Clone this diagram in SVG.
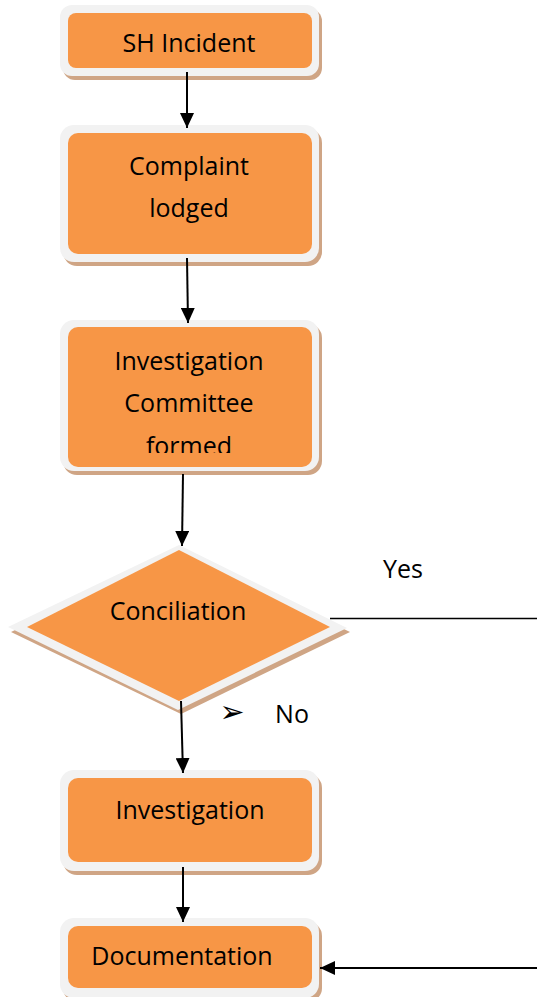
<svg xmlns="http://www.w3.org/2000/svg" width="537" height="997" viewBox="0 0 537 997">
<defs>
<marker id="ah" markerUnits="userSpaceOnUse" markerWidth="16" markerHeight="14" refX="15" refY="7" orient="auto">
<path d="M0,0 L15,7 L0,14 z" fill="#000"/>
</marker>
<clipPath id="c3"><rect x="60" y="320" width="270" height="133"/></clipPath>
</defs>
<style>
.sh{fill:#cfa585}
.fr{fill:#f2f2f2}
.in{fill:#f79646}
.t{font-family:"Open Sans","Liberation Sans",sans-serif;font-size:25px;fill:#000;text-anchor:middle}
.c{stroke:#000;stroke-width:2;fill:none}
</style>
<rect width="537" height="997" fill="#fff"/>
<g id="n1">
<rect class="sh" x="63" y="9" width="259" height="71" rx="12"/>
<rect class="fr" x="60" y="5" width="259" height="71" rx="12"/>
<rect class="in" x="68" y="13" width="244" height="55" rx="8"/>
<text class="t" x="189" y="52">SH Incident</text>
</g>
<g id="n2">
<rect class="sh" x="63" y="129" width="259" height="137" rx="14"/>
<rect class="fr" x="60" y="125" width="259" height="137" rx="14"/>
<rect class="in" x="68" y="133" width="244" height="121" rx="10"/>
<text class="t" x="189" y="175">Complaint</text>
<text class="t" x="189" y="217">lodged</text>
</g>
<g id="n3">
<rect class="sh" x="63" y="324" width="259" height="151" rx="14"/>
<rect class="fr" x="60" y="320" width="259" height="151" rx="14"/>
<rect class="in" x="68" y="327" width="244" height="140" rx="10"/>
<g clip-path="url(#c3)">
<text class="t" x="189" y="370">Investigation</text>
<text class="t" x="189" y="412">Committee</text>
<text class="t" x="189" y="455">formed</text>
</g>
</g>
<g id="n4">
<polygon class="sh" points="180,549 11,632 181,714 350,632"/>
<polygon class="fr" points="179,545 8,627 178,710 347,628"/>
<polygon class="in" points="179,550 27,627 179,701 330,627"/>
<text class="t" x="178" y="620">Conciliation</text>
</g>
<g id="n5">
<rect class="sh" x="63" y="774" width="259" height="101" rx="14"/>
<rect class="fr" x="60" y="770" width="259" height="101" rx="14"/>
<rect class="in" x="68" y="778" width="244" height="84" rx="10"/>
<text class="t" x="190" y="819">Investigation</text>
</g>
<g id="n6">
<rect class="sh" x="63" y="922" width="259" height="80" rx="14"/>
<rect class="fr" x="60" y="918" width="259" height="80" rx="14"/>
<rect class="in" x="68" y="926" width="244" height="62" rx="10"/>
<text class="t" x="182" y="965">Documentation</text>
</g>
<g id="connectors">
<line class="c" x1="187" y1="72" x2="187" y2="128" marker-end="url(#ah)"/>
<line class="c" x1="187" y1="258" x2="188" y2="323" marker-end="url(#ah)"/>
<line class="c" x1="183" y1="474" x2="182" y2="546" marker-end="url(#ah)"/>
<line class="c" x1="181" y1="701" x2="183" y2="773" marker-end="url(#ah)"/>
<line class="c" x1="183" y1="867" x2="183" y2="922" marker-end="url(#ah)"/>
<line x1="330" y1="618.5" x2="537" y2="618.5" stroke="#000" stroke-width="1.5"/>
<line class="c" x1="537" y1="968" x2="320" y2="968" marker-end="url(#ah)"/>
<text x="403" y="578" class="t">Yes</text>
<text x="232" y="722" style="font-family:'DejaVu Sans',sans-serif;font-size:30px;text-anchor:middle">➢</text>
<text x="292" y="723" class="t">No</text>
</g>
</svg>
